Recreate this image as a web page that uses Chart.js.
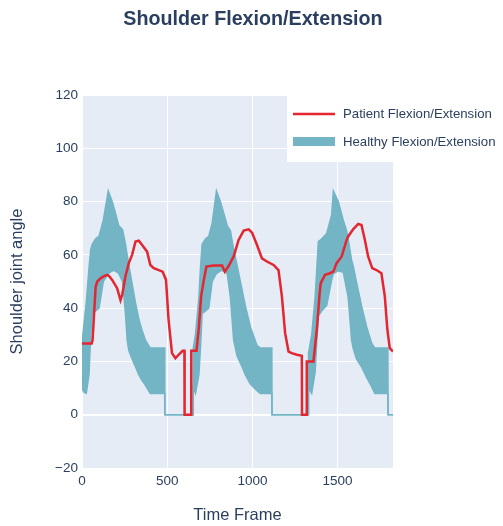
<!DOCTYPE html>
<html lang="en">

<head>
    <meta charset="UTF-8">
    <title>Shoulder Flexion/Extension</title>
    <script src="https://cdn.jsdelivr.net/npm/chart.js"></script>
    <style>
        html, body { margin: 0; padding: 0; background: #fff; }
        #wrap { width: 503px; height: 526px; }
    </style>
</head>

<body>
    <div id="wrap">
        <canvas id="flexChart" width="503" height="526"></canvas>
    </div>
    <script>
        // Healthy band: shared frame numbers, upper and lower envelope
        const healthyX = [
            0, 10, 25, 41, 51, 60, 80, 100, 125, 154, 177, 195, 215, 238, 255, 265, 275, 300, 314, 333, 351, 372, 401, 485, 486,
            652, 653, 666, 686, 695, 705, 725, 744, 764, 789, 812, 830, 852, 871, 890, 910, 939, 958, 988, 1027, 1046, 1114, 1115,
            1328, 1329, 1348, 1368, 1378, 1387, 1407, 1436, 1465, 1475, 1504, 1533, 1553, 1562, 1582, 1591, 1610, 1640, 1670, 1699, 1718, 1795, 1796, 1825
        ];
        const healthyUpper = [
            27, 33, 42, 55, 62, 64, 66, 67, 73, 84, 80, 76, 71, 69.5, 64, 60, 56, 47, 42, 36, 32, 28, 25, 25, 0,
            0, 25, 30, 44, 55, 64, 66, 67, 72, 84, 80, 76, 71, 69, 62, 56, 47, 41, 33, 26, 25, 25, 0,
            0, 23, 30, 44, 55, 65, 66, 68, 75, 84, 80, 73, 69, 66, 58, 56, 50, 41, 33, 27, 25, 25, 0, 0
        ];
        const healthyLower = [
            10, 8.5, 8, 15, 30, 38, 39, 40, 50, 53, 54, 54, 53, 50, 38, 28, 24, 20, 18, 15, 13, 11, 8, 8, 0,
            0, 10, 8, 15, 25, 38, 39, 40, 50, 53, 54, 54, 53, 44, 28, 22, 18, 15, 11.5, 9, 8, 8, 0,
            0, 10, 8, 16, 28, 37, 39, 41, 50.6, 53, 54, 53.5, 47, 44, 28, 25, 21, 18, 14, 10.6, 8, 8, 0, 0
        ];

        // Patient trace
        const patientX = [
            0, 57, 62, 80, 90, 109, 129, 148, 160, 177, 206, 226, 236, 255, 275, 294, 314, 333, 353, 382, 401, 421, 450, 473, 493, 508, 528, 548, 567, 590, 601, 602, 640,
            641, 672, 686, 699, 715, 730, 773, 822, 838, 861, 890, 919, 949, 978, 998, 1027, 1056, 1085, 1124, 1153, 1173, 1192, 1212, 1231, 1261, 1290, 1291, 1318,
            1319, 1358, 1378, 1393, 1401, 1426, 1455, 1475, 1494, 1524, 1553, 1562, 1591, 1621, 1640, 1660, 1679, 1703, 1728, 1757, 1777, 1792, 1806, 1825
        ];
        const patientY = [
            26.7, 26.7, 28, 48, 50, 51.2, 52, 52.5, 52, 50.6, 47.5, 43, 45, 52, 57, 60, 65, 65.3, 63.7, 61.2, 56.2, 55, 54.3, 53.7, 50.6, 35.6, 23.1, 21.2, 22.5, 24, 24, 0, 0,
            24, 24, 33, 44.4, 50.6, 55.6, 56, 56, 53.7, 55.9, 59.4, 65.6, 69.1, 69.6, 68.3, 63.7, 58.7, 57.5, 56.2, 54.3, 44.4, 30.6, 23.7, 23.1, 22.5, 22.1, 0, 0,
            20, 20, 31.9, 44.4, 49.4, 52.5, 53.1, 53.7, 56.9, 59.4, 65.6, 66.9, 69.6, 71.6, 71.2, 65.6, 59.4, 55, 54.3, 53.1, 44.4, 31.9, 25, 23.7
        ];

        const xTicks = [0, 500, 1000, 1500];
        const yTicks = [-20, 0, 20, 40, 60, 80, 100, 120];
        const seriesNames = ['Patient Flexion/Extension', 'Healthy Flexion/Extension'];

        const redColor = '#e3262f';
        const tealColor = '#73b4c5';
        const textColor = '#2a3f5f';
        const fontFamily = "'Liberation Sans', Arial, sans-serif";

        Chart.defaults.font.family = fontFamily;
        Chart.defaults.color = textColor;

        function toPoints(xs, ys) {
            return xs.map((x, i) => ({ x: x, y: ys[i] }));
        }

        // plot background, title and overlaid legend (plotly style)
        const decorPlugin = {
            id: 'decor',
            beforeDraw(chart) {
                const { ctx, chartArea } = chart;
                ctx.save();
                ctx.fillStyle = '#e5ecf6';
                ctx.fillRect(chartArea.left, chartArea.top, chartArea.right - chartArea.left, chartArea.bottom - chartArea.top);
                ctx.restore();
            },
            afterDraw(chart) {
                const ctx = chart.ctx;
                ctx.save();
                ctx.fillStyle = textColor;
                ctx.font = 'bold 19.7px ' + fontFamily;
                ctx.textAlign = 'center';
                ctx.textBaseline = 'middle';
                ctx.fillText('Shoulder Flexion/Extension', 253, 20);

                // legend box
                ctx.fillStyle = '#ffffff';
                ctx.fillRect(287, 96, 216, 66);
                ctx.strokeStyle = redColor;
                ctx.lineWidth = 2.5;
                ctx.beginPath();
                ctx.moveTo(293, 114);
                ctx.lineTo(335, 114);
                ctx.stroke();
                ctx.fillStyle = tealColor;
                ctx.fillRect(293, 137, 42, 9);
                ctx.fillStyle = textColor;
                ctx.font = '13.2px ' + fontFamily;
                ctx.textAlign = 'left';
                ctx.fillText(seriesNames[0], 343, 114);
                ctx.fillText(seriesNames[1], 343, 142);
                ctx.restore();
            }
        };

        new Chart(document.getElementById('flexChart'), {
            type: 'line',
            data: {
                datasets: [
                    {
                        label: seriesNames[0],
                        data: toPoints(patientX, patientY),
                        borderColor: redColor,
                        borderWidth: 2.5,
                        pointRadius: 0,
                        fill: false,
                        tension: 0
                    },
                    {
                        label: 'healthy lower',
                        data: toPoints(healthyX, healthyLower),
                        borderColor: tealColor,
                        borderWidth: 1.5,
                        pointRadius: 0,
                        fill: false,
                        tension: 0
                    },
                    {
                        label: seriesNames[1],
                        data: toPoints(healthyX, healthyUpper),
                        borderColor: tealColor,
                        backgroundColor: tealColor,
                        borderWidth: 1.5,
                        pointRadius: 0,
                        fill: 1,
                        tension: 0
                    }
                ]
            },
            options: {
                responsive: false,
                animation: false,
                layout: { padding: { top: 95, right: 110, left: 0, bottom: 0 } },
                plugins: {
                    legend: { display: false },
                    tooltip: { enabled: false }
                },
                scales: {
                    x: {
                        type: 'linear',
                        min: 0,
                        max: 1825,
                        afterFit(scale) { scale.height = 58; },
                        afterBuildTicks(scale) { scale.ticks = xTicks.map(v => ({ value: v })); },
                        grid: { color: '#ffffff', lineWidth: 1, drawTicks: false },
                        border: { display: false },
                        ticks: {
                            padding: 5,
                            font: { size: 13.5 },
                            color: textColor,
                            maxRotation: 0,
                            callback: v => String(v)
                        },
                        title: { display: true, text: 'Time Frame', font: { size: 16.5 }, color: textColor, padding: { top: 0, bottom: 1 } }
                    },
                    y: {
                        type: 'linear',
                        min: -20,
                        max: 120,
                        afterFit(scale) { scale.width = 82; },
                        afterBuildTicks(scale) { scale.ticks = yTicks.map(v => ({ value: v })); },
                        grid: {
                            color: '#ffffff',
                            lineWidth: ctx => (ctx.tick && ctx.tick.value === 0 ? 2 : 1),
                            drawTicks: false
                        },
                        border: { display: false },
                        ticks: {
                            padding: 4,
                            font: { size: 13.5 },
                            color: textColor,
                            callback: v => (v < 0 ? '\u2212' + Math.abs(v) : String(v))
                        },
                        title: { display: true, text: 'Shoulder joint angle', font: { size: 16.5 }, color: textColor, padding: { top: 8, bottom: 0 } }
                    }
                }
            },
            plugins: [decorPlugin]
        });
    </script>
</body>

</html>
